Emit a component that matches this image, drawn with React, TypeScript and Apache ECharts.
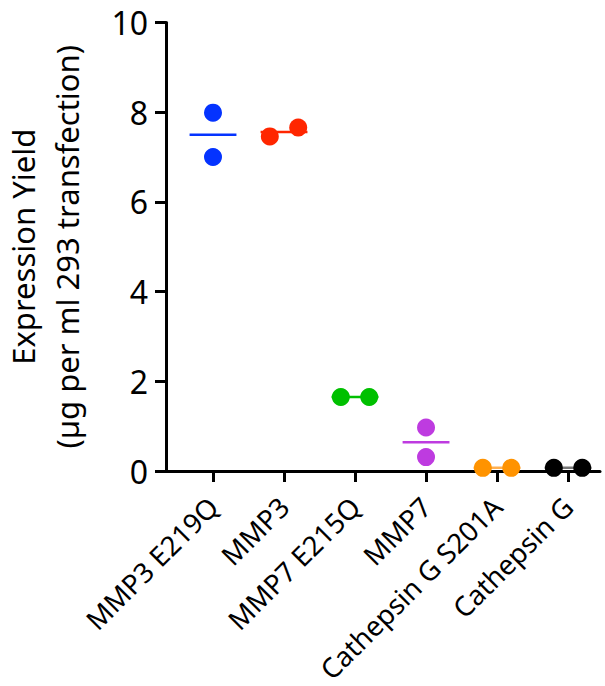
import React, { useEffect, useRef } from "react";
import * as echarts from "echarts";

const categories = ["MMP3 E219Q", "MMP3", "MMP7 E215Q", "MMP7", "Cathepsin G S201A", "Cathepsin G"];
const replicate1 = [7.99, 7.46, 1.65, 0.97, 0.07, 0.07];
const replicate2 = [7.0, 7.66, 1.65, 0.31, 0.07, 0.07];
const means = [7.5, 7.56, 1.65, 0.64, 0.07, 0.07];
const colors = ["#0433FF", "#FF2600", "#00C000", "#BE3BE0", "#FF9300", "#000000"];
const meanColors = ["#0433FF", "#FF2600", "#00C000", "#BE3BE0", "#FFB050", "#777777"];
const yTicks = [0, 2, 4, 6, 8, 10];

// horizontal jitter used by the plot to separate overlapping replicates
const jitter1 = [0, -0.2, -0.2, 0, -0.2, -0.2];
const jitter2 = [0, 0.2, 0.2, 0, 0.2, 0.2];
const meanHalfWidth = 0.33;

const FONT = "Noto Sans";

export default function App() {
  const ref = useRef<HTMLDivElement>(null);
  useEffect(() => {
    if (!ref.current) return;
    const chart = echarts.init(ref.current, undefined, { renderer: "svg" });

    const pointData: any[] = [];
    categories.forEach((_, i) => {
      pointData.push({ value: [i + jitter1[i], replicate1[i]], itemStyle: { color: colors[i], opacity: 1 } });
      pointData.push({ value: [i + jitter2[i], replicate2[i]], itemStyle: { color: colors[i], opacity: 1 } });
    });

    chart.setOption({
      animation: false,
      backgroundColor: "#ffffff",
      grid: {
        left: 166,
        right: 5,
        top: 22.5,
        bottom: 215,
        containLabel: false,
        outerBoundsMode: "none",
      },
      xAxis: {
        type: "value",
        min: -0.662,
        max: 5.45,
        splitLine: { show: false },
        axisLine: { show: true, onZero: false, lineStyle: { color: "#000", width: 3 } },
        axisTick: {
          show: true,
          customValues: categories.map((_, i) => i),
          length: 11,
          lineStyle: { color: "#000", width: 3 },
        },
        axisLabel: {
          customValues: categories.map((_, i) => i),
          formatter: (v: number) => categories[Math.round(v)] ?? "",
          rotate: 45,
          margin: 31,
          hideOverlap: false,
          color: "#000",
          fontFamily: FONT,
          fontSize: 27.5,
        },
      },
      yAxis: {
        type: "value",
        min: 0,
        max: 10,
        interval: 2,
        splitLine: { show: false },
        axisLine: { show: true, onZero: false, lineStyle: { color: "#000", width: 3 } },
        axisTick: { show: true, length: 11, lineStyle: { color: "#000", width: 3 } },
        axisLabel: {
          color: "#000",
          fontFamily: FONT,
          fontSize: 32,
          margin: 18,
          formatter: (v: number) => (yTicks.includes(v) ? String(v) : ""),
        },
        name: "Expression Yield\n(µg per ml 293 transfection)",
        nameLocation: "middle",
        nameRotate: 90,
        nameGap: 77,
        nameTextStyle: { color: "#000", fontFamily: FONT, fontSize: 31, lineHeight: 44 },
      },
      series: [
        {
          type: "custom",
          z: 3,
          data: means.map((m, i) => [i, m]),
          renderItem: (params: any, api: any) => {
            const i = api.value(0);
            const m = api.value(1);
            const p1 = api.coord([i - meanHalfWidth, m]);
            const p2 = api.coord([i + meanHalfWidth, m]);
            return {
              type: "line",
              shape: { x1: p1[0], y1: p1[1], x2: p2[0], y2: p2[1] },
              style: { stroke: meanColors[i], lineWidth: 2.5 },
            };
          },
        },
        {
          type: "scatter",
          z: 4,
          symbol: "circle",
          symbolSize: 18,
          itemStyle: { opacity: 1 },
          data: pointData,
        },
      ],
    });
    return () => chart.dispose();
  }, []);
  return (
    <div
      ref={ref}
      style={{ position: "fixed", left: 0, top: 0, width: 605, height: 686 }}
    />
  );
}
